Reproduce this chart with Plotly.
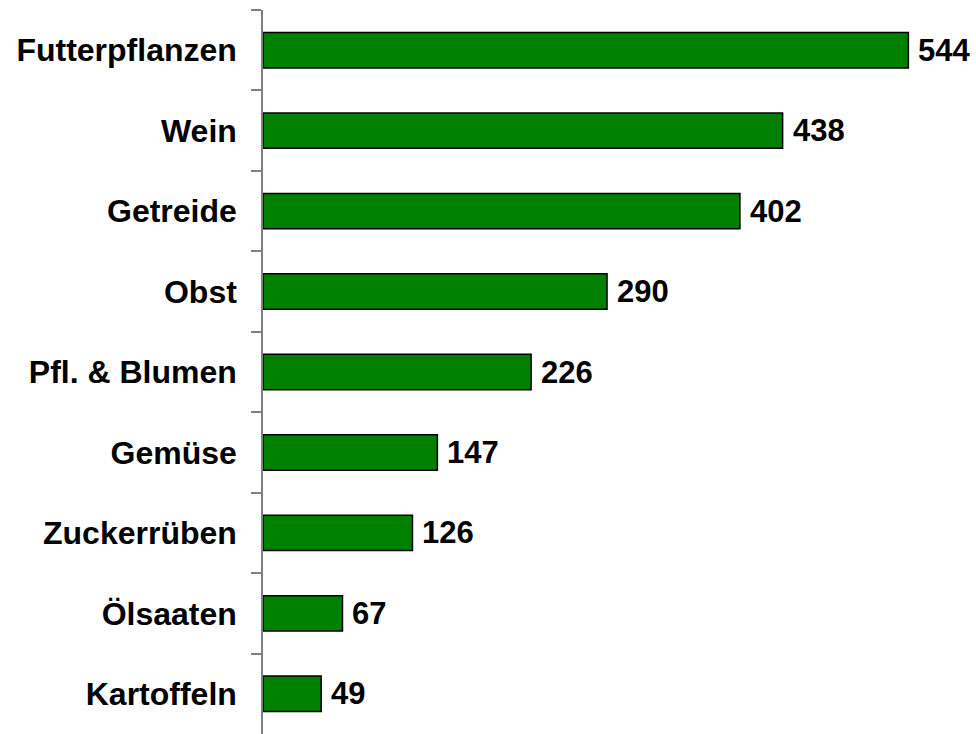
import plotly.graph_objects as go

categories = ["Futterpflanzen", "Wein", "Getreide", "Obst", "Pfl. & Blumen",
              "Gemüse", "Zuckerrüben", "Ölsaaten", "Kartoffeln"]
values = [544, 438, 402, 290, 226, 147, 126, 67, 49]

FONT = "Liberation Sans, Arial, sans-serif"

fig = go.Figure()
fig.add_trace(go.Bar(
    x=values, y=categories, orientation="h",
    marker=dict(color="#008000", line=dict(color="#000000", width=1.5)),
    hoverinfo="skip",
))

for c, v in zip(categories, values):
    fig.add_annotation(x=v, y=c, text=str(v), showarrow=False,
                       xanchor="left", yanchor="middle", xshift=8,
                       font=dict(family=FONT, size=31, color="#000000", weight="bold"))

fig.update_layout(
    width=976, height=734,
    margin=dict(l=263, r=0, t=9.5, b=0),
    paper_bgcolor="white", plot_bgcolor="white",
    bargap=0.56,
    showlegend=False,
    font=dict(family=FONT, size=31, color="#000000"),
)
fig.update_xaxes(range=[0, 601], visible=False, showgrid=False, zeroline=False)
fig.update_yaxes(
    autorange="reversed", type="category",
    showline=True, linecolor="#808080", linewidth=1.5,
    ticks="outside", tickson="boundaries", ticklen=10, tickcolor="#808080", tickwidth=1.5,
    ticklabelstandoff=18,
    tickfont=dict(family=FONT, size=32, color="#000000", weight="bold"),
    showgrid=False, zeroline=False,
)

fig.write_html(
    "out.html",
    config={"displayModeBar": False},
    post_script="document.body.style.margin='0';document.body.style.overflow='hidden';",
)
